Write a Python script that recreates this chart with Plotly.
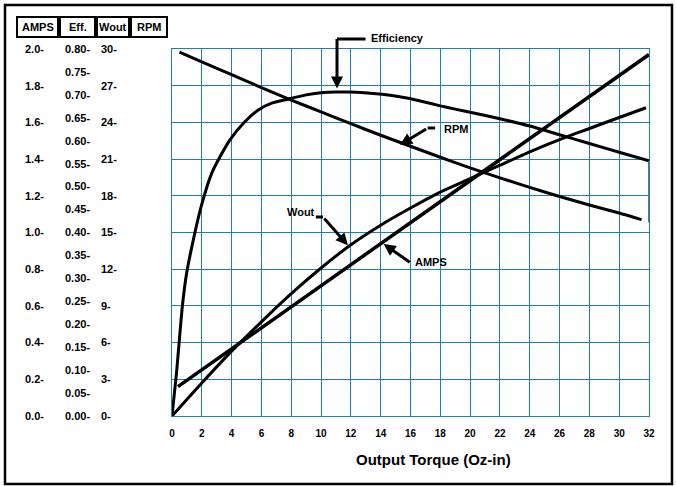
import plotly.graph_objects as go

W, H = 676, 486
FONT = "Liberation Sans, Arial, sans-serif"

# ---- data ----
torque_ticks = [0, 2, 4, 6, 8, 10, 12, 14, 16, 18, 20, 22, 24, 26, 28, 30, 32]
rpm_ticks = [0, 200, 400, 600, 800, 1000, 1200, 1400, 1600, 1800, 2000]
rpm_ticktext = ["0", "200-", "400-", "600-", "800-", "1000-", "1200-", "1400-", "1600-", "1800-", "2000-"]
amps_ticks = [0.0, 0.2, 0.4, 0.6, 0.8, 1.0, 1.2, 1.4, 1.6, 1.8, 2.0]
amps_ticktext = ["0.0-", "0.2-", "0.4-", "0.6-", "0.8-", "1.0-", "1.2-", "1.4-", "1.6-", "1.8-", "2.0-"]
eff_ticks = [0.00, 0.05, 0.10, 0.15, 0.20, 0.25, 0.30, 0.35, 0.40, 0.45, 0.50, 0.55, 0.60, 0.65, 0.70, 0.75, 0.80]
eff_ticktext = ["0.00-", "0.05-", "0.10-", "0.15-", "0.20-", "0.25-", "0.30-", "0.35-", "0.40-",
                "0.45-", "0.50-", "0.55-", "0.60-", "0.65-", "0.70-", "0.75-", "0.80-"]
wout_ticks = [0, 3, 6, 9, 12, 15, 18, 21, 24, 27, 30]
wout_ticktext = ["0-", "3-", "6-", "9-", "12-", "15-", "18-", "21-", "24-", "27-", "30-"]
header_labels = ["AMPS", "Eff.", "Wout", "RPM"]

eff_torque = [0, 0.3, 0.69, 0.98, 1.43, 1.95, 2.66, 3.22, 3.89, 4.79, 5.79, 6.69, 7.7, 9.0,
              10.15, 11.05, 11.95, 13.5, 14.63, 15.75, 16.87, 18.0, 19.0, 20.0, 22.0, 24.0,
              26.0, 28.0, 30.0, 32.0]
eff_values = [0, 0.093, 0.238, 0.311, 0.384, 0.456, 0.529, 0.565, 0.602, 0.638, 0.667, 0.682,
              0.690, 0.700, 0.705, 0.706, 0.706, 0.703, 0.699, 0.693, 0.685, 0.676, 0.669, 0.662,
              0.648, 0.632, 0.613, 0.594, 0.575, 0.556]
eff_end_torque = [32, 32]
eff_end_values = [0.556, 0.422]

rpm_torque = [0.5, 2, 4, 6, 8, 10, 12, 14, 16, 18, 20, 22, 24, 26, 28, 30, 31.5]
rpm_values = [1983, 1930, 1860, 1790, 1722, 1657, 1593, 1530, 1470, 1410, 1352, 1298, 1246,
              1196, 1150, 1106, 1070]

amps_torque = [0.4, 32.0]
amps_values = [0.16, 1.97]

wout_torque = [0, 2, 4, 6, 8, 10, 12, 14, 16, 18, 20, 22, 24, 26, 28, 30, 31.8]
wout_values = [0, 2.7, 5.3, 7.7, 10.0, 12.1, 14.0, 15.6, 17.0, 18.3, 19.4, 20.5, 21.6, 22.6,
               23.5, 24.4, 25.2]


def fx(px):
    return px / W


def fy(py):
    return 1 - py / H


XDOM = [fx(172), fx(649)]
YDOM = [fy(416), fy(49)]
GRID = "#1f7fae"

fig = go.Figure()
fig.add_trace(go.Scatter(x=eff_torque, y=eff_values, yaxis="y3", mode="lines",
                         line=dict(color="black", width=3, shape="spline", smoothing=0.6)))
fig.add_trace(go.Scatter(x=eff_end_torque, y=eff_end_values, yaxis="y3", mode="lines",
                         line=dict(color="#6e6e6e", width=2)))
fig.add_trace(go.Scatter(x=rpm_torque, y=rpm_values, yaxis="y", mode="lines",
                         line=dict(color="black", width=3, shape="spline", smoothing=0.6)))
fig.add_trace(go.Scatter(x=amps_torque, y=amps_values, yaxis="y2", mode="lines",
                         line=dict(color="black", width=3.5)))
fig.add_trace(go.Scatter(x=wout_torque, y=wout_values, yaxis="y4", mode="lines",
                         line=dict(color="black", width=3, shape="spline", smoothing=0.6)))

tickfont = dict(family=FONT, size=11, color="black", weight="bold")


def label_axis(pos_px, rng, vals, text):
    return dict(overlaying="y", anchor="free", position=fx(pos_px), side="right",
                domain=YDOM, range=rng, tickvals=vals, ticktext=text, showgrid=False,
                zeroline=False, showline=False, ticks="", tickfont=tickfont,
                ticklabelstandoff=0)


annotations = []
lblfont = dict(family=FONT, size=11, color="black", weight="bold")


def seg(x0, y0, x1, y1, yref, head=0):
    annotations.append(dict(x=x1, y=y1, ax=x0, ay=y0, xref="x", yref=yref, axref="x",
                            ayref=yref, text="", showarrow=True, arrowhead=head,
                            arrowwidth=3, arrowsize=0.8, arrowcolor="black",
                            standoff=0, startstandoff=0))


def label(x, y, yref, txt):
    annotations.append(dict(x=x, y=y, xref="x", yref=yref, text=txt, showarrow=False,
                            xanchor="left", yanchor="middle", font=lblfont))


# Efficiency callout sits above the plot area, so it is placed in paper/pixel units
annotations.append(dict(x=fx(369), y=fy(38), xref="paper", yref="paper", text="Efficiency",
                        showarrow=False, xanchor="left", yanchor="middle", font=lblfont))
annotations.append(dict(x=fx(337), y=fy(39), xref="paper", yref="paper", text="",
                        showarrow=True, ax=30, ay=0, axref="pixel", ayref="pixel",
                        arrowhead=0, arrowwidth=3, arrowcolor="black",
                        standoff=0, startstandoff=0))
annotations.append(dict(x=11.07, y=0.714, xref="x", yref="y3", text="",
                        showarrow=True, ax=0, ay=-51, axref="pixel", ayref="pixel",
                        arrowhead=2, arrowwidth=3, arrowsize=0.8, arrowcolor="black",
                        standoff=0, startstandoff=0))

label(18.1, 1564, "y", "RPM")
seg(17.75, 1569, 17.15, 1569, "y")
seg(17.15, 1569, 15.3, 1478, "y", head=2)

label(7.55, 16.7, "y4", "Wout")
seg(9.55, 16.26, 10.13, 16.26, "y4")
seg(10.13, 16.26, 11.8, 13.95, "y4", head=2)

label(16.2, 0.839, "y2", "AMPS")
seg(16.05, 0.832, 14.2, 0.938, "y2", head=2)

# x axis title
annotations.append(dict(x=fx(433), y=fy(459), xref="paper", yref="paper",
                        xanchor="center", yanchor="middle",
                        text="Output Torque (Oz-in)", showarrow=False,
                        font=dict(family=FONT, size=15, color="black", weight="bold")))

# header boxes
shapes = []
header_edges = [(17, 58), (60, 95), (97, 129), (131, 167)]
for name, (x0, x1) in zip(header_labels, header_edges):
    shapes.append(dict(type="rect", xref="paper", yref="paper", x0=fx(x0), x1=fx(x1),
                       y0=fy(37), y1=fy(17), line=dict(color="black", width=2)))
    annotations.append(dict(x=fx((x0 + x1) / 2), y=fy(27), xref="paper", yref="paper",
                            xanchor="center", yanchor="middle",
                            text=name, showarrow=False, font=lblfont))

# outer frame
shapes.append(dict(type="rect", xref="paper", yref="paper", x0=fx(5), x1=fx(672),
                   y0=fy(484), y1=fy(5), line=dict(color="black", width=2.5)))

fig.update_layout(
    width=W, height=H,
    margin=dict(l=0, r=0, t=0, b=0, autoexpand=False),
    paper_bgcolor="white", plot_bgcolor="white",
    showlegend=False,
    xaxis=dict(domain=XDOM, range=[0, 32], tickvals=torque_ticks, showgrid=True,
               gridcolor=GRID, gridwidth=1.3, zeroline=False, showline=True, mirror=True,
               linecolor=GRID, linewidth=1.3, ticks="", tickfont=dict(family=FONT, size=10,
               color="black", weight="bold"), ticklabelstandoff=8),
    yaxis=dict(domain=YDOM, range=[0, 2000], tickvals=rpm_ticks, showgrid=True,
               gridcolor=GRID, gridwidth=1.3, zeroline=False, showline=True, mirror=True,
               linecolor=GRID, linewidth=1.3, showticklabels=False, ticks=""),
    yaxis2=label_axis(24, [0, 2], amps_ticks, amps_ticktext),
    yaxis3=label_axis(64, [0, 0.8], eff_ticks, eff_ticktext),
    yaxis4=label_axis(100, [0, 30], wout_ticks, wout_ticktext),
    yaxis5=label_axis(137, [0, 2000], rpm_ticks, rpm_ticktext),
    annotations=annotations,
    shapes=shapes,
)

fig.write_html("out.html", config={"displayModeBar": False},
               post_script="document.body.style.margin = '0';")
